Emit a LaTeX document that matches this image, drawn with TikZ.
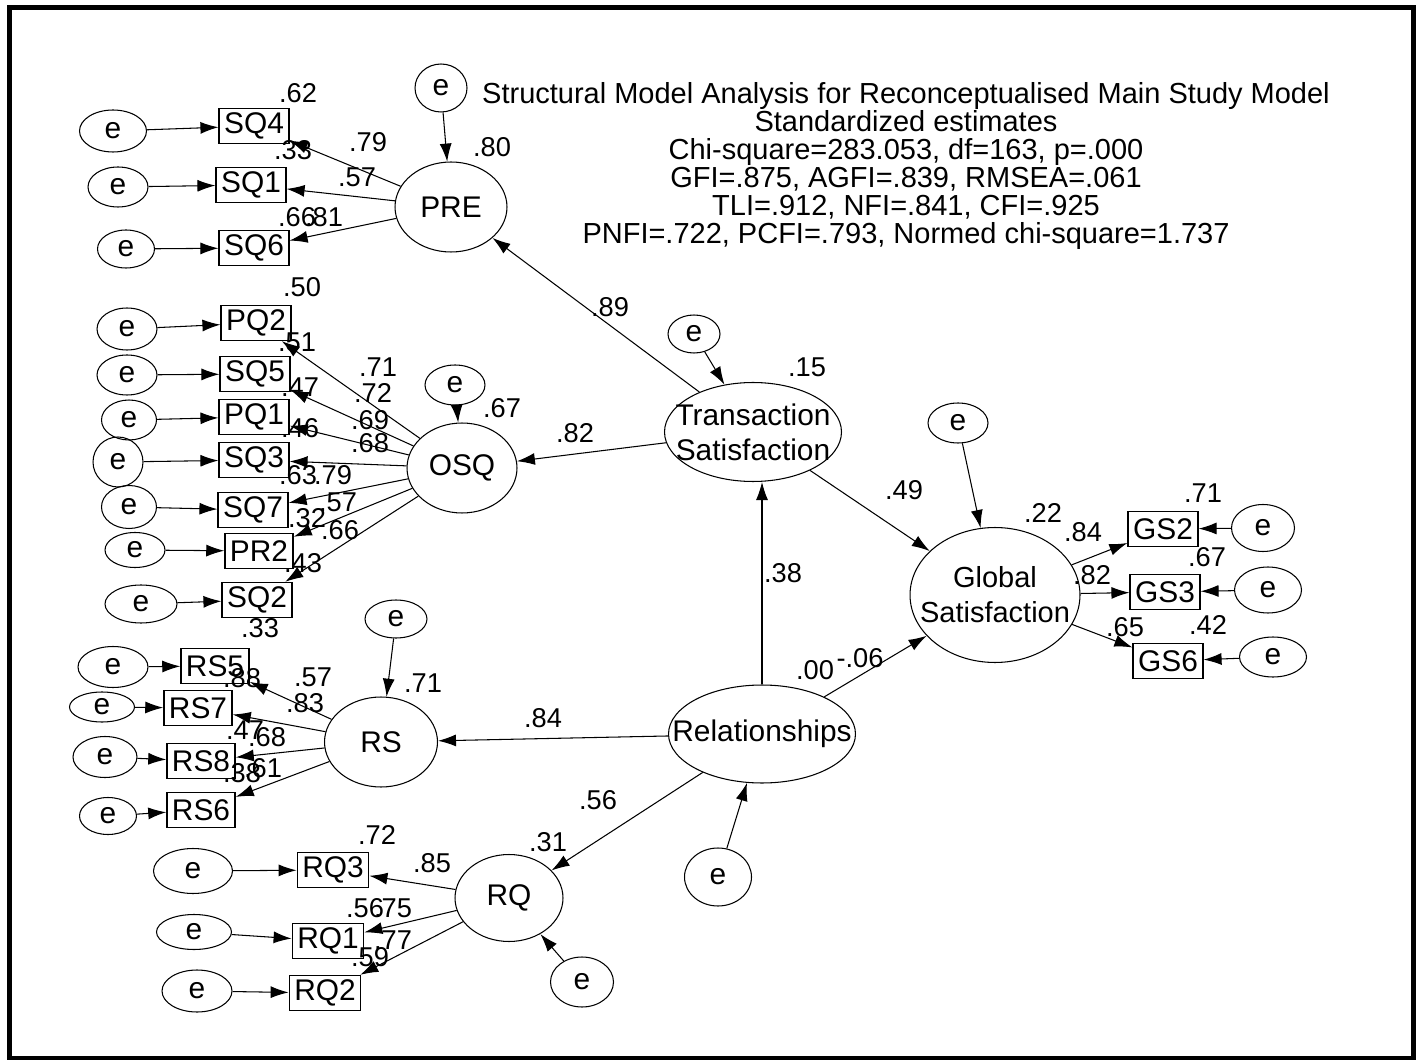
\documentclass[tikz,border=0pt]{standalone}
\usepackage{fontspec}
\setmainfont{Liberation Sans}
\usepackage{tikz}
\usetikzlibrary{shapes.geometric, arrows.meta, positioning}
\tikzset{
    error_e/.style={ellipse, draw, line width=0.6pt, inner sep=0pt, minimum width=1.2cm, minimum height=0.8cm, font=\fontsize{17}{18}\selectfont},
    caja_ind/.style={rectangle, draw, line width=0.8pt, inner xsep=0.1cm, inner ysep=0pt, minimum height=0.7cm, font=\fontsize{17}{18}\selectfont},
    latente/.style={ellipse, draw, line width=0.6pt, inner sep=0pt},
    etiq_lat/.style={align=center, inner sep=0pt, font=\fontsize{17}{20}\selectfont},
    coef/.style={inner sep=0pt, font=\fontsize{15.5}{15.5}\selectfont},
    flecha/.style={-{Latex[length=0.36cm, width=0.24cm]}, line width=0.6pt}
}

\begin{document}
\begin{tikzpicture}[x=0.02cm, y=-0.02cm]

    \useasboundingbox (0,0) rectangle (1416,1060);
    % Marco exterior
    \draw[line width=0.1cm] (9.5,7.5) rectangle (1413.5,1058);

    % Titulo y ajuste
    \node[align=center, inner sep=0pt, font=\fontsize{16.5}{15.9}\selectfont] (titulo) at (906,166) {
        Structural Model Analysis for Reconceptualised Main Study Model\\
        Standardized estimates\\
        Chi-square=283.053, df=163, p=.000\\
        GFI=.875, AGFI=.839, RMSEA=.061\\
        TLI=.912, NFI=.841, CFI=.925\\
        PNFI=.722, PCFI=.793, Normed chi-square=1.737
    };

    % 1. Bloque PRE
    \node[latente, minimum width=2.24cm, minimum height=1.8cm, label={[etiq_lat, name=t_pre]center:PRE}] (pre) at (451,207) {};
    \node[error_e, minimum width=1.04cm, minimum height=0.96cm] (e_pre) at (441,88) {e};
    \node[caja_ind] (sq4) at (254,126) {SQ4};
    \node[caja_ind] (sq1) at (251,185) {SQ1};
    \node[caja_ind] (sq6) at (254,248) {SQ6};
    \node[error_e, minimum width=1.34cm, minimum height=0.84cm] (e_sq4) at (113,131) {e};
    \node[error_e] (e_sq1) at (118,187) {e};
    \node[error_e, minimum width=1.14cm, minimum height=0.76cm] (e_sq6) at (126,249) {e};

    % 2. Bloque OSQ
    \node[latente, minimum width=2.2cm, minimum height=1.8cm, label={[etiq_lat, name=t_osq]center:OSQ}] (osq) at (462,468) {};
    \node[error_e] (e_osq) at (455,385) {e};
    \node[caja_ind] (pq2) at (256,323) {PQ2};
    \node[caja_ind] (sq5) at (255,374) {SQ5};
    \node[caja_ind] (pq1) at (254,417) {PQ1};
    \node[caja_ind] (sq3) at (254,460) {SQ3};
    \node[caja_ind] (sq7) at (253,510) {SQ7};
    \node[caja_ind] (pr2) at (259,551) {PR2};
    \node[caja_ind] (sq2) at (257,600) {SQ2};
    \node[error_e, minimum height=0.84cm] (e_pq2) at (127,329) {e};
    \node[error_e] (e_sq5) at (127,375) {e};
    \node[error_e, minimum width=1.1cm] (e_pq1) at (129,420) {e};
    \node[error_e, minimum width=1cm, minimum height=1cm] (e_sq3) at (118,462) {e};
    \node[error_e, minimum width=1.1cm, minimum height=0.86cm] (e_sq7) at (129,507) {e};
    \node[error_e, minimum height=0.7cm] (e_pr2) at (135,550) {e};
    \node[error_e, minimum width=1.44cm, minimum height=0.76cm] (e_sq2) at (141,604) {e};

    % 3. Bloque RS
    \node[latente, minimum width=2.26cm, minimum height=1.8cm, label={[etiq_lat, name=t_rs]center:RS}] (rs) at (381,742) {};
    \node[error_e, minimum width=1.24cm, minimum height=0.76cm] (e_rs) at (396,619) {e};
    \node[caja_ind] (rs5) at (215,666) {RS5};
    \node[caja_ind] (rs7) at (198,708) {RS7};
    \node[caja_ind] (rs8) at (201,761) {RS8};
    \node[caja_ind] (rs6) at (201,810) {RS6};
    \node[error_e, minimum width=1.4cm, minimum height=0.82cm] (e_rs5) at (113,667) {e};
    \node[error_e, minimum width=1.3cm, minimum height=0.6cm] (e_rs7) at (102,707) {e};
    \node[error_e, minimum width=1.28cm, minimum height=0.82cm] (e_rs8) at (105,757) {e};
    \node[error_e, minimum width=1.14cm, minimum height=0.74cm] (e_rs6) at (108,816) {e};

    % 4. Bloque RQ
    \node[latente, minimum width=2.16cm, minimum height=1.74cm, label={[etiq_lat, name=t_rq]center:RQ}] (rq) at (509,898) {};
    \node[error_e, minimum width=1.26cm, minimum height=1cm] (e_rq) at (582,982) {e};
    \node[caja_ind] (rq3) at (333,870) {RQ3};
    \node[caja_ind] (rq1) at (328,941) {RQ1};
    \node[caja_ind] (rq2) at (325,993) {RQ2};
    \node[error_e, minimum width=1.58cm, minimum height=0.9cm] (e_rq3) at (193,871) {e};
    \node[error_e, minimum width=1.5cm, minimum height=0.7cm] (e_rq1) at (194,932) {e};
    \node[error_e, minimum width=1.4cm, minimum height=0.84cm] (e_rq2) at (197,991) {e};

    % 5. Nodos centrales
    \node[latente, minimum width=3.54cm, minimum height=1.98cm, label={[etiq_lat, name=t_ts]center:Transaction\\Satisfaction}] (ts) at (753,432) {};
    \node[error_e, minimum width=1.04cm, minimum height=0.76cm] (e_ts) at (694,334) {e};
    \node[latente, minimum width=3.74cm, minimum height=1.96cm, label={[etiq_lat, name=t_rel]center:Relationships}] (rel) at (762,734) {};
    \node[error_e, minimum width=1.34cm, minimum height=1.16cm] (e_rel) at (718,877) {e};
    \node[latente, minimum width=3.4cm, minimum height=2.7cm, label={[etiq_lat, font=\fontsize{16.5}{20}\selectfont, name=t_gs]center:Global\\Satisfaction}] (gs) at (995,595) {};
    \node[error_e] (e_gs) at (958,423) {e};

    % 6. Bloque GS
    \node[caja_ind] (gs2) at (1163,529) {GS2};
    \node[caja_ind] (gs3) at (1165,592) {GS3};
    \node[caja_ind] (gs6) at (1168,661) {GS6};
    \node[error_e, minimum width=1.26cm, minimum height=0.94cm] (e_gs2) at (1263,528) {e};
    \node[error_e, minimum width=1.34cm, minimum height=0.92cm] (e_gs3) at (1268,590) {e};
    \node[error_e, minimum width=1.34cm, minimum height=0.8cm] (e_gs6) at (1273,657) {e};

    % --- CONEXIONES ---

    % Errores a indicadores
    \draw[flecha] (e_sq4) -- (sq4);
    \draw[flecha] (e_sq1) -- (sq1);
    \draw[flecha] (e_sq6) -- (sq6);
    \draw[flecha] (e_pq2) -- (pq2);
    \draw[flecha] (e_sq5) -- (sq5);
    \draw[flecha] (e_pq1) -- (pq1);
    \draw[flecha] (e_sq3) -- (sq3);
    \draw[flecha] (e_sq7) -- (sq7);
    \draw[flecha] (e_pr2) -- (pr2);
    \draw[flecha] (e_sq2) -- (sq2);
    \draw[flecha] (e_rs5) -- (rs5);
    \draw[flecha] (e_rs7) -- (rs7);
    \draw[flecha] (e_rs8) -- (rs8);
    \draw[flecha] (e_rs6) -- (rs6);
    \draw[flecha] (e_rq3) -- (rq3);
    \draw[flecha] (e_rq1) -- (rq1);
    \draw[flecha] (e_rq2) -- (rq2);
    \draw[flecha] (e_gs2) -- (gs2);
    \draw[flecha] (e_gs3) -- (gs3);
    \draw[flecha] (e_gs6) -- (gs6);

    % Latentes a indicadores
    \draw[flecha] (pre) -- (sq4);
    \draw[flecha] (pre) -- (sq1);
    \draw[flecha] (pre) -- (sq6);
    \draw[flecha] (osq) -- (pq2);
    \draw[flecha] (osq) -- (sq5);
    \draw[flecha] (osq) -- (pq1);
    \draw[flecha] (osq) -- (sq3);
    \draw[flecha] (osq) -- (sq7);
    \draw[flecha] (osq) -- (pr2);
    \draw[flecha] (osq) -- (sq2);
    \draw[flecha] (rs) -- (rs5);
    \draw[flecha] (rs) -- (rs7);
    \draw[flecha] (rs) -- (rs8);
    \draw[flecha] (rs) -- (rs6);
    \draw[flecha] (rq) -- (rq3);
    \draw[flecha] (rq) -- (rq1);
    \draw[flecha] (rq) -- (rq2);
    \draw[flecha] (gs) -- (gs2);
    \draw[flecha] (gs) -- (gs3);
    \draw[flecha] (gs) -- (gs6);

    % Perturbaciones de las latentes
    \draw[flecha] (e_pre) -- (pre);
    \draw[flecha] (e_osq) -- (osq);
    \draw[flecha] (e_rs) -- (rs);
    \draw[flecha] (e_rq) -- (rq);
    \draw[flecha] (e_ts) -- (ts);
    \draw[flecha] (e_gs) -- (gs);
    \draw[flecha] (e_rel) -- (rel);

    % Modelo estructural
    \draw[flecha] (ts) -- (pre);
    \draw[flecha] (ts) -- (osq);
    \draw[flecha] (ts) -- (gs);
    \draw[flecha] (rel.north) -- (rel.north |- ts.south);
    \draw[flecha] (rel) -- (rs);
    \draw[flecha] (rel) -- (rq);
    \draw[flecha] (rel) -- (gs);

    % --- COEFICIENTES ---
    \node[coef] (c1) at (298,93) {.62};
    \node[coef] (c2) at (368,142) {.79};
    \node[coef] (c3) at (293,150) {.33};
    \node[coef] (c4) at (357,177) {.57};
    \node[coef] (c5) at (297,217) {.66};
    \node[coef] (c6) at (324,217) {.81};
    \node[coef] (c7) at (492,147) {.80};
    \node[coef] (c8) at (302,287) {.50};
    \node[coef] (c9) at (297,342) {.51};
    \node[coef] (c10) at (378,367) {.71};
    \node[coef] (c11) at (300,387) {.47};
    \node[coef] (c12) at (373,393) {.72};
    \node[coef] (c13) at (370,420) {.69};
    \node[coef] (c14) at (300,428) {.46};
    \node[coef] (c15) at (370,443) {.68};
    \node[coef] (c16) at (298,475) {.63};
    \node[coef] (c17) at (333,475) {.79};
    \node[coef] (c18) at (338,502) {.57};
    \node[coef] (c19) at (307,518) {.32};
    \node[coef] (c20) at (340,530) {.66};
    \node[coef] (c21) at (303,563) {.43};
    \node[coef] (c22) at (502,408) {.67};
    \node[coef] (c23) at (575,433) {.82};
    \node[coef] (c24) at (610,307) {.89};
    \node[coef] (c25) at (260,628) {.33};
    \node[coef] (c26) at (242,678) {.88};
    \node[coef] (c27) at (313,677) {.57};
    \node[coef] (c28) at (305,703) {.83};
    \node[coef] (c29) at (245,730) {.47};
    \node[coef] (c30) at (267,737) {.68};
    \node[coef] (c31) at (242,773) {.38};
    \node[coef] (c32) at (263,768) {.61};
    \node[coef] (c33) at (423,683) {.71};
    \node[coef] (c34) at (543,718) {.84};
    \node[coef] (c35) at (377,835) {.72};
    \node[coef] (c36) at (432,863) {.85};
    \node[coef] (c37) at (365,908) {.56};
    \node[coef] (c38) at (393,908) {.75};
    \node[coef] (c39) at (393,940) {.77};
    \node[coef] (c40) at (370,957) {.59};
    \node[coef] (c41) at (548,842) {.31};
    \node[coef] (c42) at (598,800) {.56};
    \node[coef] (c43) at (807,367) {.15};
    \node[coef] (c44) at (783,573) {.38};
    \node[coef] (c45) at (904,490) {.49};
    \node[coef] (c46) at (815,670) {.00};
    \node[coef] (c47) at (860,658) {-.06};
    \node[coef] (c48) at (1043,513) {.22};
    \node[coef] (c49) at (1083,532) {.84};
    \node[coef] (c50) at (1203,493) {.71};
    \node[coef] (c51) at (1207,557) {.67};
    \node[coef] (c52) at (1092,575) {.82};
    \node[coef] (c53) at (1125,627) {.65};
    \node[coef] (c54) at (1208,625) {.42};

\end{tikzpicture}
\end{document}
